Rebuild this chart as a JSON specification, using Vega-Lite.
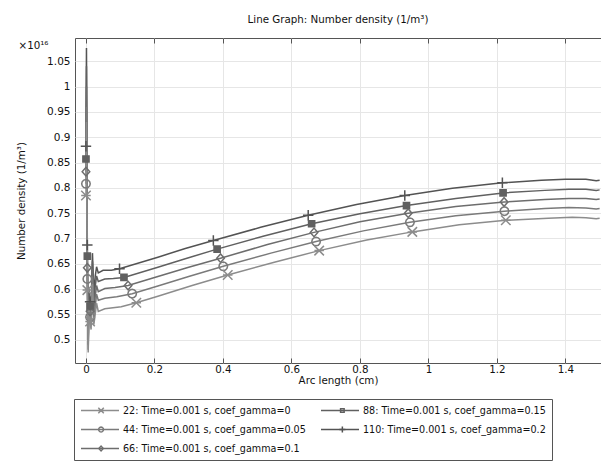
{
  "$schema": "https://vega.github.io/schema/vega-lite/v6.json",
  "autosize": {"type": "none"},
  "width": 526,
  "height": 325,
  "padding": {"left": 75, "top": 38, "right": 0, "bottom": 109},
  "title": {"text": "Line Graph: Number density (1/m³)", "fontSize": 10.3, "fontWeight": "normal", "font": "DejaVu Sans", "color": "#111", "offset": 12, "anchor": "middle"},
  "config": {
    "font": "DejaVu Sans",
    "view": {"stroke": "#555", "strokeWidth": 1},
    "axis": {"labelFontSize": 10.5, "titleFontSize": 10.3, "titleFontWeight": "normal", "labelColor": "#111", "titleColor": "#111", "gridColor": "#e6e6e6", "tickColor": "#555", "domain": false, "labelOverlap": false},
    "axisX": {"tickSize": -5, "labelPadding": 6, "titlePadding": 1, "labelFontSize": 10.3},
    "axisY": {"ticks": false, "labelPadding": 5, "titlePadding": 20}
  },
  "datasets": {
    "curves": [
      {"series": "110: Time=0.001 s, coef_gamma=0.2", "x": 0, "y": 0.882},
      {"series": "110: Time=0.001 s, coef_gamma=0.2", "x": 0.0015, "y": 1.076},
      {"series": "110: Time=0.001 s, coef_gamma=0.2", "x": 0.004, "y": 0.687},
      {"series": "110: Time=0.001 s, coef_gamma=0.2", "x": 0.0065, "y": 0.52},
      {"series": "110: Time=0.001 s, coef_gamma=0.2", "x": 0.009, "y": 0.6},
      {"series": "110: Time=0.001 s, coef_gamma=0.2", "x": 0.012, "y": 0.575},
      {"series": "110: Time=0.001 s, coef_gamma=0.2", "x": 0.015, "y": 0.56},
      {"series": "110: Time=0.001 s, coef_gamma=0.2", "x": 0.019, "y": 0.671},
      {"series": "110: Time=0.001 s, coef_gamma=0.2", "x": 0.023, "y": 0.59},
      {"series": "110: Time=0.001 s, coef_gamma=0.2", "x": 0.027, "y": 0.625},
      {"series": "110: Time=0.001 s, coef_gamma=0.2", "x": 0.031, "y": 0.644},
      {"series": "110: Time=0.001 s, coef_gamma=0.2", "x": 0.036, "y": 0.632},
      {"series": "110: Time=0.001 s, coef_gamma=0.2", "x": 0.05, "y": 0.637},
      {"series": "110: Time=0.001 s, coef_gamma=0.2", "x": 0.074, "y": 0.637},
      {"series": "110: Time=0.001 s, coef_gamma=0.2", "x": 0.098, "y": 0.64},
      {"series": "110: Time=0.001 s, coef_gamma=0.2", "x": 0.21, "y": 0.663},
      {"series": "110: Time=0.001 s, coef_gamma=0.2", "x": 0.29, "y": 0.68},
      {"series": "110: Time=0.001 s, coef_gamma=0.2", "x": 0.372, "y": 0.696},
      {"series": "110: Time=0.001 s, coef_gamma=0.2", "x": 0.51, "y": 0.722},
      {"series": "110: Time=0.001 s, coef_gamma=0.2", "x": 0.649, "y": 0.746},
      {"series": "110: Time=0.001 s, coef_gamma=0.2", "x": 0.79, "y": 0.767},
      {"series": "110: Time=0.001 s, coef_gamma=0.2", "x": 0.931, "y": 0.785},
      {"series": "110: Time=0.001 s, coef_gamma=0.2", "x": 1.07, "y": 0.799},
      {"series": "110: Time=0.001 s, coef_gamma=0.2", "x": 1.216, "y": 0.81},
      {"series": "110: Time=0.001 s, coef_gamma=0.2", "x": 1.33, "y": 0.815},
      {"series": "110: Time=0.001 s, coef_gamma=0.2", "x": 1.4, "y": 0.817},
      {"series": "110: Time=0.001 s, coef_gamma=0.2", "x": 1.46, "y": 0.817},
      {"series": "110: Time=0.001 s, coef_gamma=0.2", "x": 1.49, "y": 0.814},
      {"series": "110: Time=0.001 s, coef_gamma=0.2", "x": 1.5, "y": 0.815},

      {"series": "88: Time=0.001 s, coef_gamma=0.15", "x": 0, "y": 0.857},
      {"series": "88: Time=0.001 s, coef_gamma=0.15", "x": 0.0015, "y": 1.04},
      {"series": "88: Time=0.001 s, coef_gamma=0.15", "x": 0.004, "y": 0.665},
      {"series": "88: Time=0.001 s, coef_gamma=0.15", "x": 0.0065, "y": 0.5},
      {"series": "88: Time=0.001 s, coef_gamma=0.15", "x": 0.009, "y": 0.59},
      {"series": "88: Time=0.001 s, coef_gamma=0.15", "x": 0.012, "y": 0.566},
      {"series": "88: Time=0.001 s, coef_gamma=0.15", "x": 0.015, "y": 0.55},
      {"series": "88: Time=0.001 s, coef_gamma=0.15", "x": 0.019, "y": 0.655},
      {"series": "88: Time=0.001 s, coef_gamma=0.15", "x": 0.023, "y": 0.575},
      {"series": "88: Time=0.001 s, coef_gamma=0.15", "x": 0.027, "y": 0.605},
      {"series": "88: Time=0.001 s, coef_gamma=0.15", "x": 0.031, "y": 0.626},
      {"series": "88: Time=0.001 s, coef_gamma=0.15", "x": 0.036, "y": 0.615},
      {"series": "88: Time=0.001 s, coef_gamma=0.15", "x": 0.055, "y": 0.62},
      {"series": "88: Time=0.001 s, coef_gamma=0.15", "x": 0.08, "y": 0.621},
      {"series": "88: Time=0.001 s, coef_gamma=0.15", "x": 0.111, "y": 0.623},
      {"series": "88: Time=0.001 s, coef_gamma=0.15", "x": 0.21, "y": 0.643},
      {"series": "88: Time=0.001 s, coef_gamma=0.15", "x": 0.29, "y": 0.66},
      {"series": "88: Time=0.001 s, coef_gamma=0.15", "x": 0.383, "y": 0.679},
      {"series": "88: Time=0.001 s, coef_gamma=0.15", "x": 0.52, "y": 0.705},
      {"series": "88: Time=0.001 s, coef_gamma=0.15", "x": 0.659, "y": 0.729},
      {"series": "88: Time=0.001 s, coef_gamma=0.15", "x": 0.8, "y": 0.749},
      {"series": "88: Time=0.001 s, coef_gamma=0.15", "x": 0.936, "y": 0.765},
      {"series": "88: Time=0.001 s, coef_gamma=0.15", "x": 1.08, "y": 0.779},
      {"series": "88: Time=0.001 s, coef_gamma=0.15", "x": 1.218, "y": 0.79},
      {"series": "88: Time=0.001 s, coef_gamma=0.15", "x": 1.34, "y": 0.795},
      {"series": "88: Time=0.001 s, coef_gamma=0.15", "x": 1.41, "y": 0.797},
      {"series": "88: Time=0.001 s, coef_gamma=0.15", "x": 1.46, "y": 0.797},
      {"series": "88: Time=0.001 s, coef_gamma=0.15", "x": 1.49, "y": 0.795},
      {"series": "88: Time=0.001 s, coef_gamma=0.15", "x": 1.5, "y": 0.796},

      {"series": "66: Time=0.001 s, coef_gamma=0.1", "x": 0, "y": 0.832},
      {"series": "66: Time=0.001 s, coef_gamma=0.1", "x": 0.0015, "y": 1.0},
      {"series": "66: Time=0.001 s, coef_gamma=0.1", "x": 0.004, "y": 0.642},
      {"series": "66: Time=0.001 s, coef_gamma=0.1", "x": 0.0065, "y": 0.49},
      {"series": "66: Time=0.001 s, coef_gamma=0.1", "x": 0.009, "y": 0.58},
      {"series": "66: Time=0.001 s, coef_gamma=0.1", "x": 0.012, "y": 0.556},
      {"series": "66: Time=0.001 s, coef_gamma=0.1", "x": 0.015, "y": 0.54},
      {"series": "66: Time=0.001 s, coef_gamma=0.1", "x": 0.019, "y": 0.64},
      {"series": "66: Time=0.001 s, coef_gamma=0.1", "x": 0.023, "y": 0.56},
      {"series": "66: Time=0.001 s, coef_gamma=0.1", "x": 0.027, "y": 0.585},
      {"series": "66: Time=0.001 s, coef_gamma=0.1", "x": 0.031, "y": 0.607},
      {"series": "66: Time=0.001 s, coef_gamma=0.1", "x": 0.036, "y": 0.595},
      {"series": "66: Time=0.001 s, coef_gamma=0.1", "x": 0.055, "y": 0.601},
      {"series": "66: Time=0.001 s, coef_gamma=0.1", "x": 0.085, "y": 0.603},
      {"series": "66: Time=0.001 s, coef_gamma=0.1", "x": 0.123, "y": 0.607},
      {"series": "66: Time=0.001 s, coef_gamma=0.1", "x": 0.21, "y": 0.625},
      {"series": "66: Time=0.001 s, coef_gamma=0.1", "x": 0.3, "y": 0.643},
      {"series": "66: Time=0.001 s, coef_gamma=0.1", "x": 0.393, "y": 0.661},
      {"series": "66: Time=0.001 s, coef_gamma=0.1", "x": 0.53, "y": 0.688},
      {"series": "66: Time=0.001 s, coef_gamma=0.1", "x": 0.666, "y": 0.712},
      {"series": "66: Time=0.001 s, coef_gamma=0.1", "x": 0.8, "y": 0.733},
      {"series": "66: Time=0.001 s, coef_gamma=0.1", "x": 0.941, "y": 0.75},
      {"series": "66: Time=0.001 s, coef_gamma=0.1", "x": 1.08, "y": 0.763},
      {"series": "66: Time=0.001 s, coef_gamma=0.1", "x": 1.221, "y": 0.772},
      {"series": "66: Time=0.001 s, coef_gamma=0.1", "x": 1.34, "y": 0.777},
      {"series": "66: Time=0.001 s, coef_gamma=0.1", "x": 1.41, "y": 0.779},
      {"series": "66: Time=0.001 s, coef_gamma=0.1", "x": 1.46, "y": 0.779},
      {"series": "66: Time=0.001 s, coef_gamma=0.1", "x": 1.49, "y": 0.777},
      {"series": "66: Time=0.001 s, coef_gamma=0.1", "x": 1.5, "y": 0.778},

      {"series": "44: Time=0.001 s, coef_gamma=0.05", "x": 0, "y": 0.808},
      {"series": "44: Time=0.001 s, coef_gamma=0.05", "x": 0.0015, "y": 0.96},
      {"series": "44: Time=0.001 s, coef_gamma=0.05", "x": 0.004, "y": 0.62},
      {"series": "44: Time=0.001 s, coef_gamma=0.05", "x": 0.0065, "y": 0.48},
      {"series": "44: Time=0.001 s, coef_gamma=0.05", "x": 0.009, "y": 0.57},
      {"series": "44: Time=0.001 s, coef_gamma=0.05", "x": 0.012, "y": 0.545},
      {"series": "44: Time=0.001 s, coef_gamma=0.05", "x": 0.015, "y": 0.53},
      {"series": "44: Time=0.001 s, coef_gamma=0.05", "x": 0.019, "y": 0.625},
      {"series": "44: Time=0.001 s, coef_gamma=0.05", "x": 0.023, "y": 0.545},
      {"series": "44: Time=0.001 s, coef_gamma=0.05", "x": 0.027, "y": 0.565},
      {"series": "44: Time=0.001 s, coef_gamma=0.05", "x": 0.031, "y": 0.59},
      {"series": "44: Time=0.001 s, coef_gamma=0.05", "x": 0.036, "y": 0.578},
      {"series": "44: Time=0.001 s, coef_gamma=0.05", "x": 0.055, "y": 0.582},
      {"series": "44: Time=0.001 s, coef_gamma=0.05", "x": 0.09, "y": 0.585},
      {"series": "44: Time=0.001 s, coef_gamma=0.05", "x": 0.135, "y": 0.591},
      {"series": "44: Time=0.001 s, coef_gamma=0.05", "x": 0.21, "y": 0.606},
      {"series": "44: Time=0.001 s, coef_gamma=0.05", "x": 0.3, "y": 0.625},
      {"series": "44: Time=0.001 s, coef_gamma=0.05", "x": 0.401, "y": 0.645},
      {"series": "44: Time=0.001 s, coef_gamma=0.05", "x": 0.54, "y": 0.671},
      {"series": "44: Time=0.001 s, coef_gamma=0.05", "x": 0.672, "y": 0.694},
      {"series": "44: Time=0.001 s, coef_gamma=0.05", "x": 0.81, "y": 0.715},
      {"series": "44: Time=0.001 s, coef_gamma=0.05", "x": 0.946, "y": 0.732},
      {"series": "44: Time=0.001 s, coef_gamma=0.05", "x": 1.08, "y": 0.745},
      {"series": "44: Time=0.001 s, coef_gamma=0.05", "x": 1.222, "y": 0.754},
      {"series": "44: Time=0.001 s, coef_gamma=0.05", "x": 1.34, "y": 0.759},
      {"series": "44: Time=0.001 s, coef_gamma=0.05", "x": 1.41, "y": 0.761},
      {"series": "44: Time=0.001 s, coef_gamma=0.05", "x": 1.46, "y": 0.76},
      {"series": "44: Time=0.001 s, coef_gamma=0.05", "x": 1.49, "y": 0.758},
      {"series": "44: Time=0.001 s, coef_gamma=0.05", "x": 1.5, "y": 0.759},

      {"series": "22: Time=0.001 s, coef_gamma=0", "x": 0, "y": 0.785},
      {"series": "22: Time=0.001 s, coef_gamma=0", "x": 0.0015, "y": 0.93},
      {"series": "22: Time=0.001 s, coef_gamma=0", "x": 0.004, "y": 0.598},
      {"series": "22: Time=0.001 s, coef_gamma=0", "x": 0.0065, "y": 0.475},
      {"series": "22: Time=0.001 s, coef_gamma=0", "x": 0.009, "y": 0.56},
      {"series": "22: Time=0.001 s, coef_gamma=0", "x": 0.012, "y": 0.536},
      {"series": "22: Time=0.001 s, coef_gamma=0", "x": 0.015, "y": 0.52},
      {"series": "22: Time=0.001 s, coef_gamma=0", "x": 0.019, "y": 0.61},
      {"series": "22: Time=0.001 s, coef_gamma=0", "x": 0.023, "y": 0.53},
      {"series": "22: Time=0.001 s, coef_gamma=0", "x": 0.027, "y": 0.55},
      {"series": "22: Time=0.001 s, coef_gamma=0", "x": 0.031, "y": 0.572},
      {"series": "22: Time=0.001 s, coef_gamma=0", "x": 0.036, "y": 0.556},
      {"series": "22: Time=0.001 s, coef_gamma=0", "x": 0.055, "y": 0.561},
      {"series": "22: Time=0.001 s, coef_gamma=0", "x": 0.103, "y": 0.565},
      {"series": "22: Time=0.001 s, coef_gamma=0", "x": 0.147, "y": 0.573},
      {"series": "22: Time=0.001 s, coef_gamma=0", "x": 0.21, "y": 0.586},
      {"series": "22: Time=0.001 s, coef_gamma=0", "x": 0.31, "y": 0.607},
      {"series": "22: Time=0.001 s, coef_gamma=0", "x": 0.414, "y": 0.628},
      {"series": "22: Time=0.001 s, coef_gamma=0", "x": 0.55, "y": 0.653},
      {"series": "22: Time=0.001 s, coef_gamma=0", "x": 0.681, "y": 0.676},
      {"series": "22: Time=0.001 s, coef_gamma=0", "x": 0.82, "y": 0.697},
      {"series": "22: Time=0.001 s, coef_gamma=0", "x": 0.953, "y": 0.713},
      {"series": "22: Time=0.001 s, coef_gamma=0", "x": 1.09, "y": 0.727},
      {"series": "22: Time=0.001 s, coef_gamma=0", "x": 1.226, "y": 0.736},
      {"series": "22: Time=0.001 s, coef_gamma=0", "x": 1.35, "y": 0.74},
      {"series": "22: Time=0.001 s, coef_gamma=0", "x": 1.42, "y": 0.742},
      {"series": "22: Time=0.001 s, coef_gamma=0", "x": 1.46, "y": 0.741},
      {"series": "22: Time=0.001 s, coef_gamma=0", "x": 1.49, "y": 0.739},
      {"series": "22: Time=0.001 s, coef_gamma=0", "x": 1.5, "y": 0.74}
    ],
    "markers": [
      {"series": "110: Time=0.001 s, coef_gamma=0.2", "x": 0, "y": 0.882},
      {"series": "110: Time=0.001 s, coef_gamma=0.2", "x": 0.004, "y": 0.687},
      {"series": "110: Time=0.001 s, coef_gamma=0.2", "x": 0.012, "y": 0.575},
      {"series": "110: Time=0.001 s, coef_gamma=0.2", "x": 0.098, "y": 0.64},
      {"series": "110: Time=0.001 s, coef_gamma=0.2", "x": 0.372, "y": 0.696},
      {"series": "110: Time=0.001 s, coef_gamma=0.2", "x": 0.649, "y": 0.746},
      {"series": "110: Time=0.001 s, coef_gamma=0.2", "x": 0.931, "y": 0.785},
      {"series": "110: Time=0.001 s, coef_gamma=0.2", "x": 1.216, "y": 0.81},
      {"series": "88: Time=0.001 s, coef_gamma=0.15", "x": 0, "y": 0.857},
      {"series": "88: Time=0.001 s, coef_gamma=0.15", "x": 0.004, "y": 0.665},
      {"series": "88: Time=0.001 s, coef_gamma=0.15", "x": 0.012, "y": 0.566},
      {"series": "88: Time=0.001 s, coef_gamma=0.15", "x": 0.111, "y": 0.623},
      {"series": "88: Time=0.001 s, coef_gamma=0.15", "x": 0.383, "y": 0.679},
      {"series": "88: Time=0.001 s, coef_gamma=0.15", "x": 0.659, "y": 0.729},
      {"series": "88: Time=0.001 s, coef_gamma=0.15", "x": 0.936, "y": 0.765},
      {"series": "88: Time=0.001 s, coef_gamma=0.15", "x": 1.218, "y": 0.79},
      {"series": "66: Time=0.001 s, coef_gamma=0.1", "x": 0, "y": 0.832},
      {"series": "66: Time=0.001 s, coef_gamma=0.1", "x": 0.004, "y": 0.642},
      {"series": "66: Time=0.001 s, coef_gamma=0.1", "x": 0.012, "y": 0.556},
      {"series": "66: Time=0.001 s, coef_gamma=0.1", "x": 0.123, "y": 0.607},
      {"series": "66: Time=0.001 s, coef_gamma=0.1", "x": 0.393, "y": 0.661},
      {"series": "66: Time=0.001 s, coef_gamma=0.1", "x": 0.666, "y": 0.712},
      {"series": "66: Time=0.001 s, coef_gamma=0.1", "x": 0.941, "y": 0.75},
      {"series": "66: Time=0.001 s, coef_gamma=0.1", "x": 1.221, "y": 0.772},
      {"series": "44: Time=0.001 s, coef_gamma=0.05", "x": 0, "y": 0.808},
      {"series": "44: Time=0.001 s, coef_gamma=0.05", "x": 0.004, "y": 0.62},
      {"series": "44: Time=0.001 s, coef_gamma=0.05", "x": 0.012, "y": 0.545},
      {"series": "44: Time=0.001 s, coef_gamma=0.05", "x": 0.135, "y": 0.591},
      {"series": "44: Time=0.001 s, coef_gamma=0.05", "x": 0.401, "y": 0.645},
      {"series": "44: Time=0.001 s, coef_gamma=0.05", "x": 0.672, "y": 0.694},
      {"series": "44: Time=0.001 s, coef_gamma=0.05", "x": 0.946, "y": 0.732},
      {"series": "44: Time=0.001 s, coef_gamma=0.05", "x": 1.222, "y": 0.754},
      {"series": "22: Time=0.001 s, coef_gamma=0", "x": 0, "y": 0.785},
      {"series": "22: Time=0.001 s, coef_gamma=0", "x": 0.004, "y": 0.598},
      {"series": "22: Time=0.001 s, coef_gamma=0", "x": 0.012, "y": 0.536},
      {"series": "22: Time=0.001 s, coef_gamma=0", "x": 0.147, "y": 0.573},
      {"series": "22: Time=0.001 s, coef_gamma=0", "x": 0.414, "y": 0.628},
      {"series": "22: Time=0.001 s, coef_gamma=0", "x": 0.681, "y": 0.676},
      {"series": "22: Time=0.001 s, coef_gamma=0", "x": 0.953, "y": 0.713},
      {"series": "22: Time=0.001 s, coef_gamma=0", "x": 1.226, "y": 0.736}
    ]
  },
  "layer": [
    {
      "data": {"name": "curves"},
      "mark": {"type": "line", "strokeWidth": 1.5, "clip": true},
      "encoding": {
        "x": {"field": "x", "type": "quantitative", "scale": {"domain": [-0.032, 1.504], "nice": false, "zero": false},
              "axis": {"title": "Arc length (cm)", "values": [0, 0.2, 0.4, 0.6, 0.8, 1, 1.2, 1.4], "format": "~g", "grid": true}},
        "y": {"field": "y", "type": "quantitative", "scale": {"domain": [0.454, 1.096], "nice": false, "zero": false},
              "axis": {"title": "Number density (1/m³)", "values": [0.5, 0.55, 0.6, 0.65, 0.7, 0.75, 0.8, 0.85, 0.9, 0.95, 1, 1.05], "format": "~g", "grid": true}},
        "color": {"field": "series", "type": "nominal",
          "scale": {"domain": ["22: Time=0.001 s, coef_gamma=0", "44: Time=0.001 s, coef_gamma=0.05", "66: Time=0.001 s, coef_gamma=0.1", "88: Time=0.001 s, coef_gamma=0.15", "110: Time=0.001 s, coef_gamma=0.2"],
                    "range": ["#8c8c8c", "#7a7a7a", "#6d6d6d", "#606060", "#535353"]},
          "legend": {
            "title": null, "orient": "none", "legendX": -1, "legendY": 361, "columns": 2, "gridAlign": "each",
            "strokeColor": "#555", "padding": 6, "rowPadding": 8, "columnPadding": 14,
            "symbolType": "stroke", "symbolSize": 1444, "clipHeight": 11, "symbolStrokeWidth": 1.5, "symbolOffset": 0, "labelOffset": 3,
            "labelFont": "DejaVu Sans", "labelFontSize": 9.6, "labelColor": "#111", "labelLimit": 0
          }
        }
      }
    },
    {
      "data": {"name": "markers"},
      "mark": {"type": "point", "size": 90, "strokeWidth": 1.5, "opacity": 1, "filled": false},
      "encoding": {
        "x": {"field": "x", "type": "quantitative",
              "axis": {"orient": "top", "labels": false, "grid": false, "values": [0, 0.2, 0.4, 0.6, 0.8, 1, 1.2, 1.4], "title": "×10¹⁶", "titleX": -27, "titleY": 7, "titleAlign": "right", "titleAngle": 0, "titleBaseline": "middle"}},
        "y": {"field": "y", "type": "quantitative",
              "axis": {"title": "Number density (1/m³)", "values": [0.5, 0.55, 0.6, 0.65, 0.7, 0.75, 0.8, 0.85, 0.9, 0.95, 1, 1.05], "format": "~g", "grid": true}},
        "color": {"field": "series", "type": "nominal",
          "legend": {
            "title": null, "orient": "none", "legendX": -1, "legendY": 361, "columns": 2, "gridAlign": "each",
            "padding": 6, "rowPadding": 8, "columnPadding": 215.3,
            "symbolSize": 30, "clipHeight": 11, "symbolStrokeWidth": 1.5, "symbolOffset": 16.26, "labelOffset": 0,
            "labelExpr": "''", "labelFontSize": 9.6,
            "encode": {"symbols": {"update": {"fill": {"signal": "datum.index === 3 ? '#606060' : 'transparent'"}}}}
          }},
        "shape": {"field": "series", "type": "nominal",
          "scale": {"domain": ["22: Time=0.001 s, coef_gamma=0", "44: Time=0.001 s, coef_gamma=0.05", "66: Time=0.001 s, coef_gamma=0.1", "88: Time=0.001 s, coef_gamma=0.15", "110: Time=0.001 s, coef_gamma=0.2"],
                    "range": ["M-1,-1L1,1M-1,1L1,-1M-1,0L1,0", "M0.9,0L0.78,0.45L0.45,0.78L0,0.9L-0.45,0.78L-0.78,0.45L-0.9,0L-0.78,-0.45L-0.45,-0.78L0,-0.9L0.45,-0.78L0.78,-0.45Z", "M-0.8,0L0,-0.9L0.8,0L0,0.9Z", "M-0.65,-0.65L0.65,-0.65L0.65,0.65L-0.65,0.65Z", "M0,-1.1L0,1.1M-1.1,0L1.1,0"]},
          "legend": {
            "title": null, "orient": "none", "legendX": -1, "legendY": 361, "columns": 2, "gridAlign": "each",
            "padding": 6, "rowPadding": 8, "columnPadding": 215.3,
            "symbolSize": 30, "clipHeight": 11, "symbolStrokeWidth": 1.5, "symbolOffset": 16.26, "labelOffset": 0,
            "labelExpr": "''", "labelFontSize": 9.6,
            "encode": {"symbols": {"update": {"fill": {"signal": "datum.index === 3 ? '#606060' : 'transparent'"}}}}
          }
        }
      }
    },
    {
      "data": {"name": "markers"},
      "transform": [{"filter": "datum.series === '88: Time=0.001 s, coef_gamma=0.15'"}],
      "mark": {"type": "point", "size": 90, "filled": true, "opacity": 1, "color": "#606060", "shape": "M-0.65,-0.65L0.65,-0.65L0.65,0.65L-0.65,0.65Z"},
      "encoding": {
        "x": {"field": "x", "type": "quantitative", "axis": null},
        "y": {"field": "y", "type": "quantitative",
              "axis": {"title": "Number density (1/m³)", "values": [0.5, 0.55, 0.6, 0.65, 0.7, 0.75, 0.8, 0.85, 0.9, 0.95, 1, 1.05], "format": "~g", "grid": true}}
      }
    }
  ],
  "resolve": {"axis": {"x": "independent"}, "legend": {"color": "independent", "shape": "independent"}}
}
